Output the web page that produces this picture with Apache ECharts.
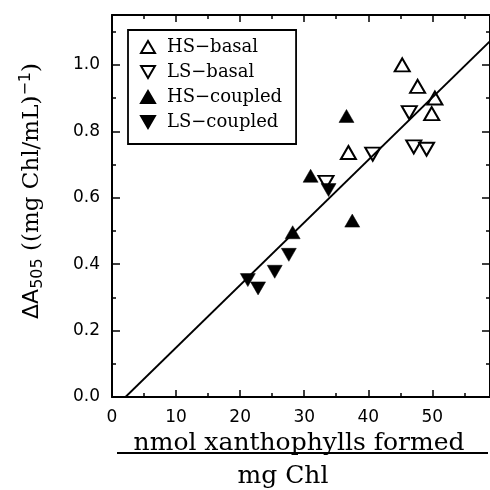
<!DOCTYPE html>
<html>
<head>
<meta charset="utf-8">
<script src="https://cdn.jsdelivr.net/npm/echarts@6/dist/echarts.min.js"></script>
<style>
  html, body { margin: 0; padding: 0; background: #fff; }
  #chart { width: 490px; height: 490px; }
</style>
</head>
<body>
<div id="chart"></div>
<script>
// tick positions (major get labels, minor are the short inner ticks)
const majorX = [0, 10, 20, 30, 40, 50];
const minorX = [5, 15, 25, 35, 45, 55];
const majorY = [0, 0.2, 0.4, 0.6, 0.8, 1.0];
const minorY = [0.1, 0.3, 0.5, 0.7, 0.9, 1.1];
const xRange = [0, 59];
const yRange = [0, 1.15];

// [xanthophylls formed, ΔA505]
const hsBasal = [[45.3, 1.0], [47.7, 0.935], [50.4, 0.90], [49.9, 0.853], [36.9, 0.736]];
const lsBasal = [[46.4, 0.856], [47.1, 0.753], [49.1, 0.746], [40.7, 0.731], [33.4, 0.646]];
const hsCoupled = [[36.6, 0.846], [31.0, 0.666], [37.5, 0.531], [28.2, 0.496]];
const lsCoupled = [[33.8, 0.623], [27.6, 0.428], [25.4, 0.377], [21.2, 0.352], [22.8, 0.327]];
// regression line end points
const fitLine = [[2.1, 0], [59, 1.071]];

const names = ['HS−basal', 'LS−basal', 'HS−coupled', 'LS−coupled'];

const ink = '#000';
const downTri = 'path://M0,0L2,0L1,1.73Z';

function mkAxis(pos, range, ticks, len, withLine) {
  return {
    type: 'value', position: pos, min: range[0], max: range[1],
    axisLine: { show: withLine, onZero: false, lineStyle: { color: ink, width: 2 } },
    axisTick: { show: true, inside: true, length: len, customValues: ticks, lineStyle: { color: ink, width: 1.5 } },
    axisLabel: { show: false },
    splitLine: { show: false },
  };
}

const chart = echarts.init(document.getElementById('chart'));

// bottom / left carry labels and names, the rest only draw the frame ticks
const xBottom = mkAxis('bottom', xRange, majorX, 7, true);
xBottom.axisLabel = {
  show: true, customValues: majorX, color: ink, fontFamily: 'DejaVu Sans', fontSize: 17, margin: 12,
  formatter: v => String(v),
};
xBottom.name = '{a|nmol xanthophylls formed}\n{b|mg Chl}';
xBottom.nameLocation = 'middle';
xBottom.nameGap = 28;
xBottom.nameTextStyle = {
  rich: {
    a: { fontFamily: 'DejaVu Serif', fontSize: 25, color: ink, lineHeight: 30, padding: [0, 4, 0, 0] },
    b: { fontFamily: 'DejaVu Serif', fontSize: 25, color: ink, lineHeight: 36, padding: [0, 36, 0, 0] },
  },
};

const yLeft = mkAxis('left', yRange, majorY, 8, true);
yLeft.axisLabel = {
  show: true, customValues: majorY, color: ink, fontFamily: 'DejaVu Sans', fontSize: 17, margin: 12,
  formatter: v => v.toFixed(1),
};
yLeft.name = '{s|ΔA}{sub|505}{r| ((mg Chl/mL)}{sup|−1}{r|)}';
yLeft.nameLocation = 'middle';
yLeft.nameGap = 66;
yLeft.nameTextStyle = {
  padding: [0, 0, 0, 30],
  rich: {
    s: { fontFamily: 'DejaVu Sans', fontSize: 22, color: ink, lineHeight: 28 },
    sub: { fontFamily: 'DejaVu Sans', fontSize: 16, color: ink, lineHeight: 28, verticalAlign: 'bottom', padding: [12, 0, 0, 0] },
    r: { fontFamily: 'DejaVu Serif', fontSize: 23, color: ink, lineHeight: 28 },
    sup: { fontFamily: 'DejaVu Sans', fontSize: 16, color: ink, lineHeight: 28, verticalAlign: 'top', padding: [0, 0, 12, 0] },
  },
};

const hollow = { color: 'rgba(255,255,255,0)', borderColor: ink, borderWidth: 2, opacity: 1 };
const solid = { color: ink, borderColor: ink, borderWidth: 0.5, opacity: 1 };

chart.setOption({
  animation: false,
  backgroundColor: '#fff',
  grid: { left: 112, right: 0, top: 15, bottom: 93, outerBoundsMode: 'none' },
  legend: {
    data: names, orient: 'vertical', left: 128, top: 30, selectedMode: false,
    padding: [8, 14, 13, 12], itemWidth: 14, itemHeight: 12, itemGap: 7,
    borderColor: ink, borderWidth: 1.8, backgroundColor: '#fff',
    textStyle: { fontFamily: 'DejaVu Serif', fontSize: 18, color: ink, lineHeight: 16, padding: [0, 0, 0, 7] },
  },
  xAxis: [
    xBottom,
    mkAxis('bottom', xRange, minorX, 4, false),
    mkAxis('top', xRange, majorX, 7, true),
    mkAxis('top', xRange, minorX, 4, false),
  ],
  yAxis: [
    yLeft,
    mkAxis('left', yRange, minorY, 4, false),
    mkAxis('right', yRange, majorY, 8, true),
    mkAxis('right', yRange, minorY, 4, false),
  ],
  graphic: [
    // fraction bar under the numerator of the x title
    { type: 'line', shape: { x1: 117, y1: 453, x2: 488, y2: 453 }, style: { stroke: ink, lineWidth: 1.8 } },
  ],
  series: [
    { name: 'fit', type: 'line', data: fitLine, symbol: 'none', lineStyle: { color: ink, width: 1.8 }, z: 1 },
    { name: names[0], type: 'scatter', data: hsBasal, symbol: 'triangle', symbolSize: [15, 13], itemStyle: hollow, z: 3 },
    { name: names[1], type: 'scatter', data: lsBasal, symbol: downTri, symbolSize: [15, 13], itemStyle: hollow, z: 3 },
    { name: names[2], type: 'scatter', data: hsCoupled, symbol: 'triangle', symbolSize: [15, 13], itemStyle: solid, z: 3 },
    { name: names[3], type: 'scatter', data: lsCoupled, symbol: downTri, symbolSize: [15, 13], itemStyle: solid, z: 3 },
  ],
});
</script>
</body>
</html>
